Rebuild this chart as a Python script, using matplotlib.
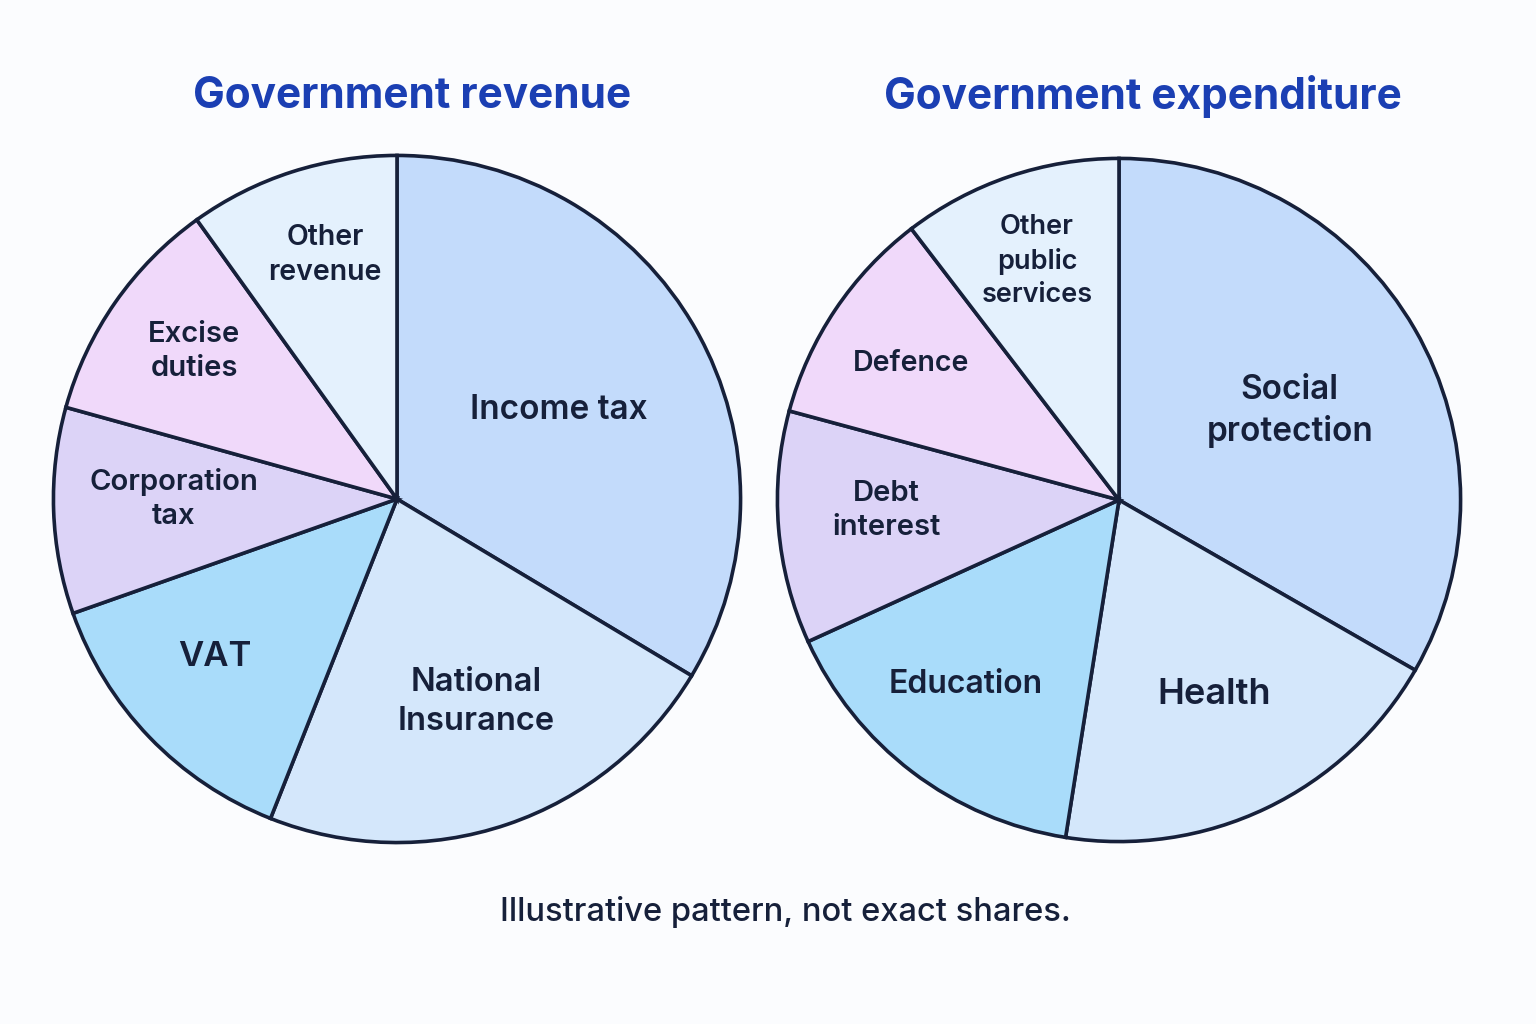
import matplotlib
matplotlib.use("Agg")
import matplotlib.pyplot as plt

W, H = 1536, 1024

rev_labels = ["Income tax", "National\nInsurance", "VAT", "Corporation\ntax", "Excise\nduties", "Other\nrevenue"]
rev_values = [33.6, 22.4, 13.6, 9.7, 10.8, 9.9]
exp_labels = ["Social\nprotection", "Health", "Education", "Debt\ninterest", "Defence", "Other\npublic\nservices"]
exp_values = [33.3, 19.2, 15.7, 11.0, 10.4, 10.4]
colors = ["#c3dbfb", "#d4e7fb", "#a9dcfa", "#dcd3f7", "#f0d9fa", "#e4f1fd"]

rev_label_pos = [(0.47, 0.26), (0.23, -0.59), (-0.53, -0.46), (-0.65, 0.0), (-0.59, 0.43), (-0.21, 0.71)]
exp_label_pos = [(0.50, 0.26), (0.28, -0.57), (-0.45, -0.54), (-0.68, -0.03), (-0.61, 0.40), (-0.24, 0.70)]
rev_sizes = [24, 23.5, 25, 21, 21, 20.5]
exp_sizes = [24, 26, 23, 21, 20.5, 19.5]

INK = "#16203a"
TITLE = "#1b3fb3"

fig = plt.figure(figsize=(W / 100, H / 100), dpi=100)
fig.patch.set_facecolor("#fbfcfe")


def pie_axes(cx, cy, r):
    return fig.add_axes([(cx - r) / W, 1 - (cy + r) / H, 2 * r / W, 2 * r / H])


def draw(ax, values, labels, pos, sizes):
    ax.pie(values, colors=colors, startangle=90, counterclock=False, radius=1,
           wedgeprops=dict(edgecolor=INK, linewidth=2.6, joinstyle="miter"))
    for (x, y), lab, s in zip(pos, labels, sizes):
        ax.text(x, y, lab, ha="center", va="center", fontsize=s, color=INK,
                family="Inter", fontweight="semibold", linespacing=1.35)
    ax.set_xlim(-1.01, 1.01)
    ax.set_ylim(-1.01, 1.01)
    ax.set_aspect("equal")
    ax.axis("off")


ax1 = pie_axes(397, 499, 347)
draw(ax1, rev_values, rev_labels, rev_label_pos, rev_sizes)
ax2 = pie_axes(1119, 500, 345)
draw(ax2, exp_values, exp_labels, exp_label_pos, exp_sizes)

fig.text(412 / W, 1 - 96 / H, "Government revenue", ha="center", va="center",
         fontsize=30.5, color=TITLE, family="Inter", fontweight="bold")
fig.text(1143 / W, 1 - 96 / H, "Government expenditure", ha="center", va="center",
         fontsize=30.5, color=TITLE, family="Inter", fontweight="bold")
fig.text(785 / W, 1 - 912 / H, "Illustrative pattern, not exact shares.", ha="center",
         va="center", fontsize=23.5, color=INK, family="Inter", fontweight="medium")

fig.savefig("out.png", dpi=100, facecolor=fig.get_facecolor())
